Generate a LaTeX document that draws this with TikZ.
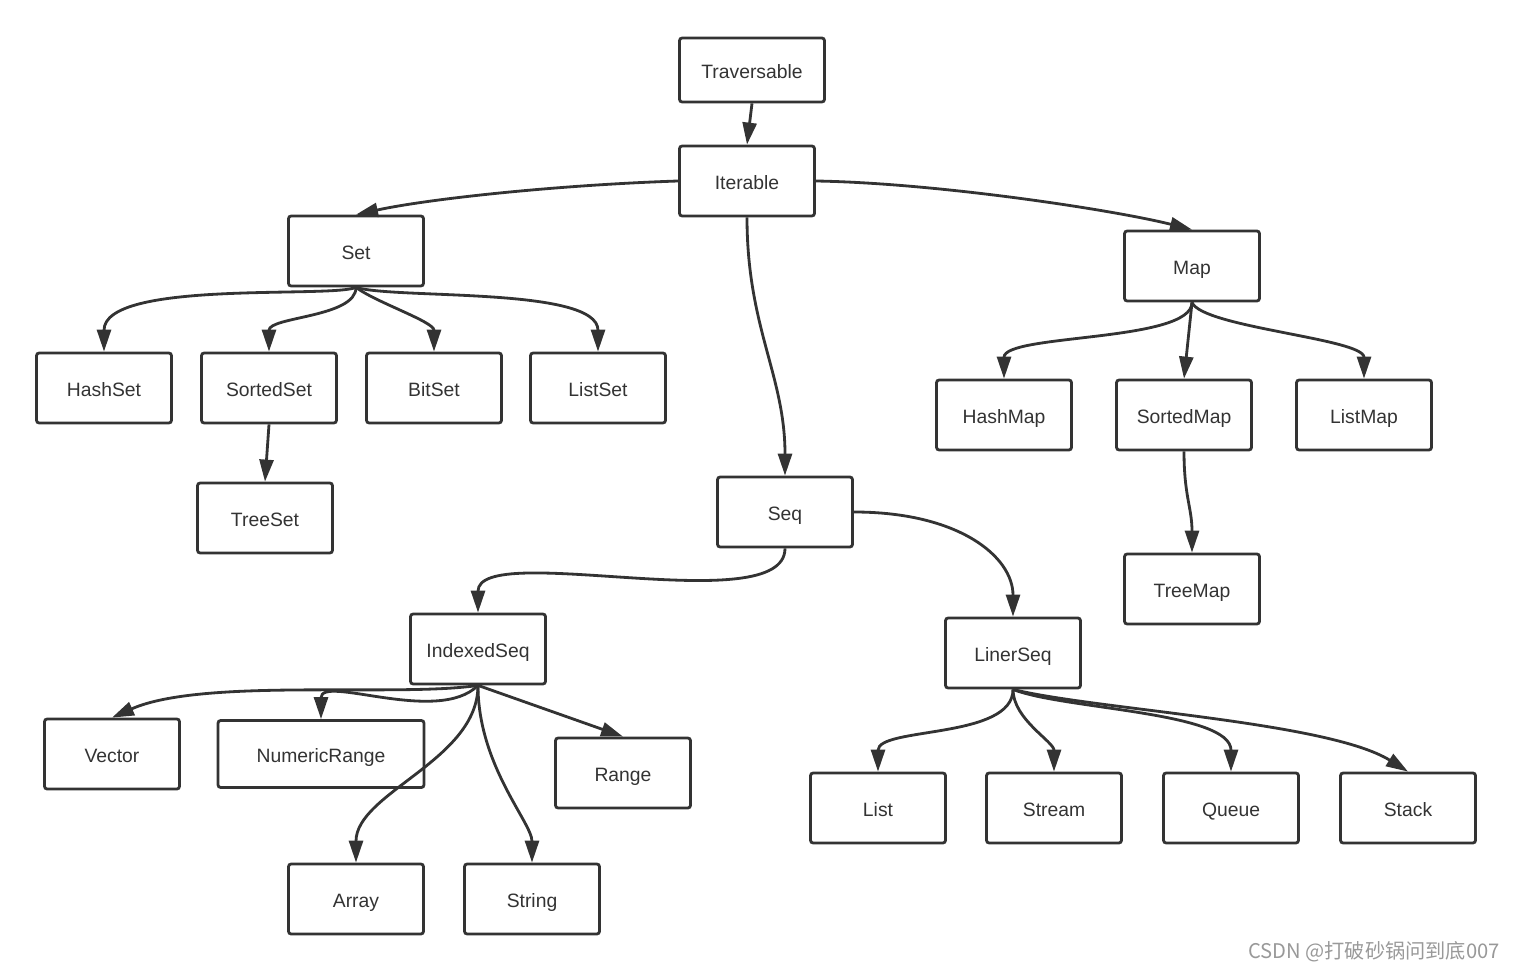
\documentclass[tikz,border=0pt]{standalone}
\usepackage{fontspec}
\setmainfont{Liberation Sans}
\newfontfamily\cjkfont{Noto Sans CJK SC}
\usetikzlibrary{arrows.meta}
\colorlet{line colour}{black!80}
\colorlet{mark colour}{black!40}
\tikzset{
    % Filled triangle heads, as in the drawing tool
    >={Triangle[length=4.4mm, width=2.8mm]},
%
    % Boxes for the collection classes
    class box/.style={draw=line colour, line width=1.6pt, rounded corners=1.5pt,
        minimum width=2.7cm, minimum height=1.4cm, text=line colour,
        text height=10pt, text depth=0pt,
        font=\fontsize{11}{13}\selectfont},
    % Inheritance lines
    inherit/.style={draw=line colour, line width=1.6pt, ->},
%
    every node/.style={align=center},
}

\begin{document}
\begin{tikzpicture}[x=0.02cm, y=-0.02cm]

\useasboundingbox (0,0) rectangle (1513,972);

% Top of the hierarchy
\node [class box, minimum width=2.9cm, minimum height=1.28cm] (traversable) at (752,70) {Traversable};
\node [class box] (iterable) at (747,181) {Iterable};
\node [class box] (set) at (356,251) {Set};
\node [class box] (map) at (1192,266) {Map};
\node [class box] (seq) at (785,512) {Seq};

% Sets
\node [class box] (hashset) at (104,388) {HashSet};
\node [class box] (sortedset) at (269,388) {SortedSet};
\node [class box] (bitset) at (434,388) {BitSet};
\node [class box] (listset) at (598,388) {ListSet};
\node [class box] (treeset) at (265,518) {TreeSet};

% Maps
\node [class box] (hashmap) at (1004,415) {HashMap};
\node [class box] (sortedmap) at (1184,415) {SortedMap};
\node [class box] (listmap) at (1364,415) {ListMap};
\node [class box] (treemap) at (1192,589) {TreeMap};

% Sequences
\node [class box] (indexedseq) at (478,649) {IndexedSeq};
\node [class box] (linerseq) at (1013,653) {LinerSeq};
\node [class box] (vector) at (112,754) {Vector};
\node [class box, minimum width=4.12cm, minimum height=1.34cm] (numericrange) at (321,754) {NumericRange};
\node [class box] (range) at (623,773) {Range};
\node [class box] (array) at (356,899) {Array};
\node [class box] (string) at (532,899) {String};
\node [class box] (list) at (878,808) {List};
\node [class box] (stream) at (1054,808) {Stream};
\node [class box] (queue) at (1231,808) {Queue};
\node [class box] (stack) at (1408,808) {Stack};

% Links from each class to its parent
\draw [inherit] (traversable.south) -- (iterable.north);
\draw [inherit] (iterable.west) .. controls +(-120,4) and +(74,-16) .. (set.north);
\draw [inherit] (iterable.east) .. controls +(120,2) and +(-80,-20) .. (map.north);
\draw [inherit] (iterable.south) .. controls +(0,110) and +(0,-100) .. (seq.north);

\draw [inherit] (set.south) .. controls +(-26,11) and +(0,-72) .. (hashset.north);
\draw [inherit] (set.south) .. controls +(0,30) and +(0,-35) .. (sortedset.north);
\draw [inherit] (set.south) .. controls +(20,15) and +(0,-30) .. (bitset.north);
\draw [inherit] (set.south) .. controls +(40,12) and +(0,-65) .. (listset.north);
\draw [inherit] (sortedset.south) -- (treeset.north);

\draw [inherit] (map.south) .. controls +(0,40) and +(0,-45) .. (hashmap.north);
\draw [inherit] (map.south) -- (sortedmap.north);
\draw [inherit] (map.south) .. controls +(10,25) and +(0,-40) .. (listmap.north);
\draw [inherit] (sortedmap.south) .. controls +(0,45) and +(0,-45) .. (treemap.north);

\draw [inherit] (seq.south) .. controls +(0,73) and +(0,-73) .. (indexedseq.north);
\draw [inherit] (seq.east) .. controls +(105,0) and +(0,-60) .. (linerseq.north);

\draw [inherit] (indexedseq.south) .. controls +(-80,12) and +(90,-40) .. (vector.north);
\draw [inherit] (indexedseq.south) .. controls +(-40,40) and +(0,-45) .. (numericrange.north);
\draw [inherit] (indexedseq.south) .. controls +(0,75) and +(0,-70) .. (array.north);
\draw [inherit] (indexedseq.south) .. controls +(0,80) and +(0,-40) .. (string.north);
\draw [inherit] (indexedseq.south) -- (range.north);

\draw [inherit] (linerseq.south) .. controls +(0,50) and +(0,-45) .. (list.north);
\draw [inherit] (linerseq.south) .. controls +(0,30) and +(0,-30) .. (stream.north);
\draw [inherit] (linerseq.south) .. controls +(50,20) and +(0,-60) .. (queue.north);
\draw [inherit] (linerseq.south) .. controls +(80,20) and +(-80,-50) .. (stack.north);

\node [text=mark colour, font=\cjkfont\fontsize{11.5}{13}\selectfont] (watermark) at (1374,952) {CSDN @打破砂锅问到底007};

\end{tikzpicture}
\end{document}
